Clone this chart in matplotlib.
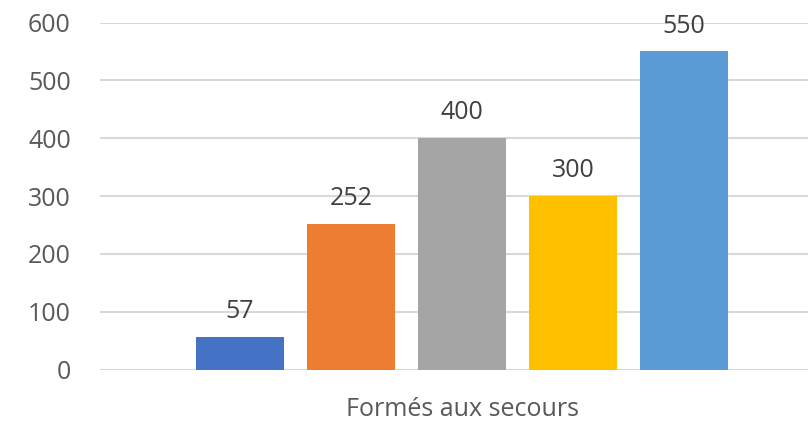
from matplotlib import pyplot as plt
import numpy as np

# data
categories = ["Formés aux secours"]
values = [57, 252, 400, 300, 550]
clrs = ["#4472C4", "#ED7D31", "#A5A5A5", "#FFC000", "#5B9BD5"]
yticks = [0, 100, 200, 300, 400, 500, 600]

plt.rcParams['font.family'] = ['Open Sans', 'DejaVu Sans']

fig = plt.figure(figsize=(8.08, 4.24), dpi=100)
ax = fig.add_axes([100 / 808, 54.5 / 424, 724 / 808, 347 / 424])

n = len(values)
width = 88 / 111
for i in range(n):
    x = 0 + (i - (n - 1) / 2)
    ax.bar(x, values[i], width=width, color=clrs[i], zorder=3)
    ax.text(x, values[i] + 22, str(values[i]), ha='center', va='bottom',
            fontsize=18, color='#404040', zorder=4)

ax.set_xlim(-362 / 111, 362 / 111)
ax.set_ylim(0, 600)
ax.set_yticks(yticks)
ax.set_xticks([0])
ax.set_xticklabels(categories)
ax.tick_params(axis='both', length=0, labelsize=18, colors='#595959')
ax.tick_params(axis='y', pad=21)
ax.tick_params(axis='x', pad=20)
ax.grid(axis='y', color='#D9D9D9', linewidth=1.5, zorder=0)
for s in ax.spines.values():
    s.set_visible(False)

fig.savefig('out.png', dpi=100)
